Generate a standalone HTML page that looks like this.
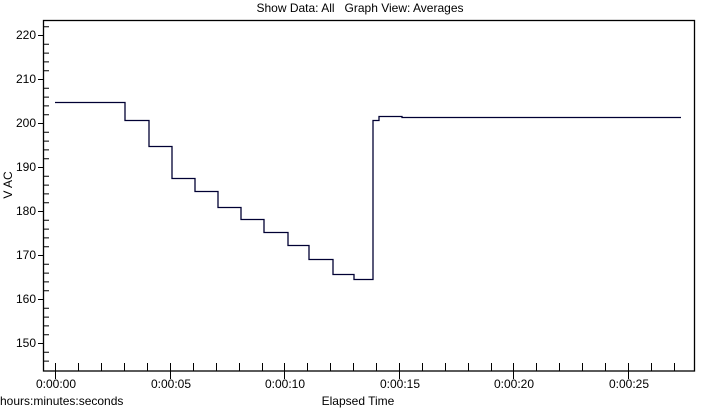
<!DOCTYPE html>
<html><head><style>
html,body{margin:0;padding:0;background:#fff;}
svg text{font-family:"Liberation Sans",Arial,sans-serif;font-size:12px;fill:#000;}
</style></head><body>
<svg width="719" height="408" xmlns="http://www.w3.org/2000/svg">
<text x="360" y="12" text-anchor="middle" xml:space="preserve">Show Data: All   Graph View: Averages</text>
<rect x="43.5" y="20.5" width="651" height="350.5" fill="none" stroke="#000" stroke-width="1.3"/>
<g stroke="#000" stroke-width="1">
<path d="M38 35.5H43M38 79.5H43M38 123.5H43M38 167.5H43M38 211.5H43M38 255.5H43M38 299.5H43M38 343.5H43"/>
<path d="M43 26.7H49M43 44.3H49M43 53.1H49M43 61.9H49M43 70.7H49M43 88.3H49M43 97.1H49M43 105.9H49M43 114.7H49M43 132.3H49M43 141.1H49M43 149.9H49M43 158.7H49M43 176.3H49M43 185.1H49M43 193.9H49M43 202.7H49M43 220.3H49M43 229.1H49M43 237.9H49M43 246.7H49M43 264.3H49M43 273.1H49M43 281.9H49M43 290.7H49M43 308.3H49M43 317.1H49M43 325.9H49M43 334.7H49M43 352.3H49M43 361.1H49"/>
<path d="M55.5 363V379M170.5 363V379M284.5 363V379M399.5 363V379M513.5 363V379M628.5 363V379"/>
<path d="M78.5 363V371M101.5 363V371M124.5 363V371M147.5 363V371M193.5 363V371M216.5 363V371M239.5 363V371M262.5 363V371M307.5 363V371M330.5 363V371M353.5 363V371M376.5 363V371M422.5 363V371M445.5 363V371M468.5 363V371M491.5 363V371M536.5 363V371M559.5 363V371M582.5 363V371M605.5 363V371M651.5 363V371M674.5 363V371"/>
</g>
<g text-anchor="end">
<text x="36" y="39">220</text><text x="36" y="83">210</text><text x="36" y="127">200</text><text x="36" y="171">190</text><text x="36" y="215">180</text><text x="36" y="259">170</text><text x="36" y="303">160</text><text x="36" y="347">150</text>
</g>
<g text-anchor="middle">
<text x="56" y="388">0:00:00</text><text x="171" y="388">0:00:05</text><text x="285" y="388">0:00:10</text><text x="400" y="388">0:00:15</text><text x="514" y="388">0:00:20</text><text x="629" y="388">0:00:25</text>
<text x="358" y="405">Elapsed Time</text>
</g>
<text x="0" y="405">hours:minutes:seconds</text>
<text transform="translate(12,185) rotate(-90)" text-anchor="middle">V AC</text>
<path fill="none" stroke="#000033" stroke-width="1.3" d="M55 102.5H125V120.5H149V146.5H172V178.5H195V191.5H218V207.5H241V219.5H264V232.5H288V245.5H309V259.5H333V274.5H354V279.5H373V120.5H379V116.5H402V117.5H681"/>
</svg>
</body></html>
